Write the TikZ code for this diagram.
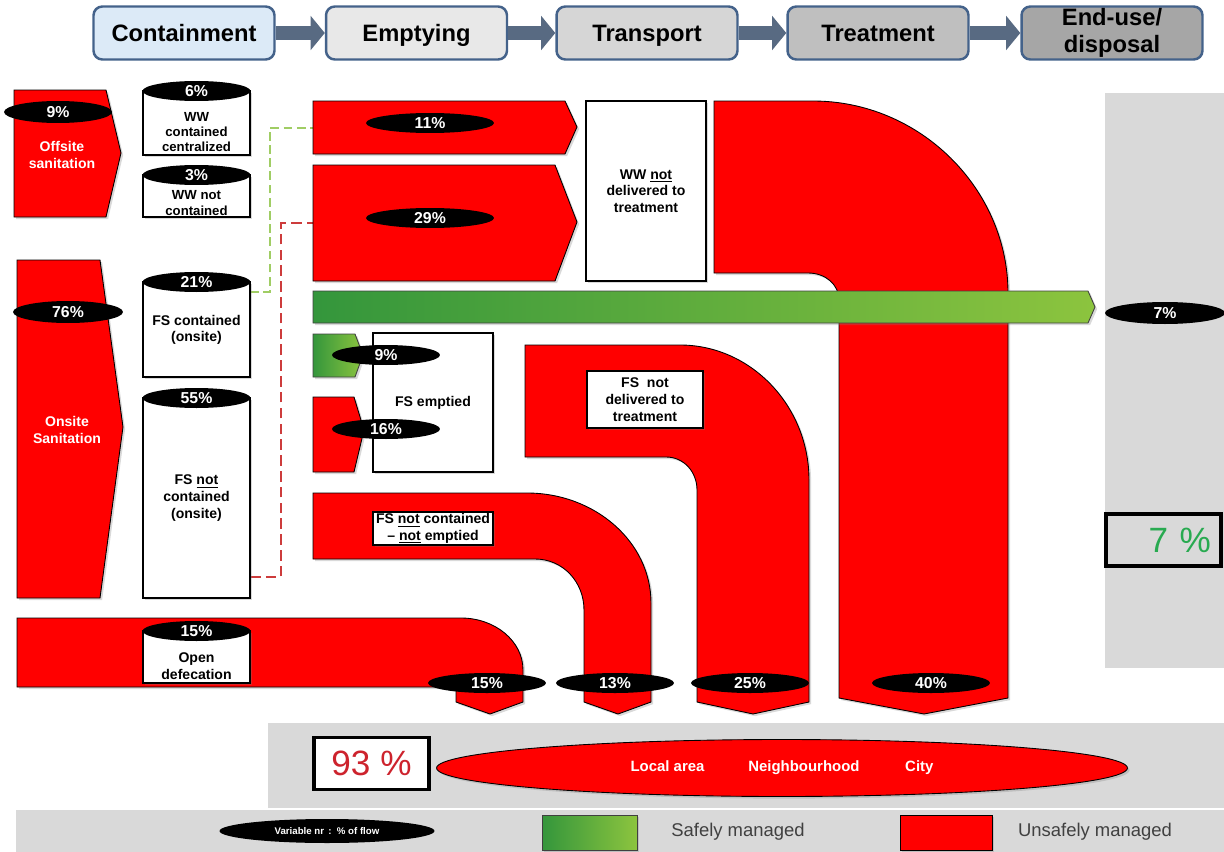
\documentclass[tikz,border=0pt]{standalone}
\usepackage{fontspec}
\setmainfont{Liberation Sans}
\usetikzlibrary{shapes.geometric,arrows.meta,shadows}

\definecolor{stageline}{RGB}{68,98,138}
\definecolor{stagearrowc}{RGB}{88,106,130}
\definecolor{contfill}{RGB}{220,234,247}
\definecolor{emptyfill}{RGB}{232,232,232}
\definecolor{transfill}{RGB}{214,214,214}
\definecolor{treatfill}{RGB}{191,191,191}
\definecolor{endfill}{RGB}{166,166,166}
\definecolor{gdark}{RGB}{52,150,60}
\definecolor{glight}{RGB}{140,196,62}
\definecolor{panelgray}{RGB}{217,217,217}
\definecolor{dashgreen}{RGB}{160,205,100}
\definecolor{dashred}{RGB}{205,60,60}
\definecolor{pctred}{RGB}{205,35,45}
\definecolor{pctgreen}{RGB}{40,170,80}
\definecolor{keytext}{RGB}{64,64,64}

\begin{document}
\begin{tikzpicture}[
    x=0.02cm, y=-0.02cm,
    stage/.style={rectangle, draw=stageline, line width=1.4pt, rounded corners=5pt, minimum width=3.62cm, minimum height=1.06cm, inner sep=0pt, align=center, font=\fontsize{13.5}{15.5}\selectfont\bfseries},
    oneline/.style={text height=9.8pt, text depth=0.6pt},
    stagearrow/.style={-{Triangle[length=8pt,width=19pt]}, line width=8.5pt, draw=stagearrowc},
    softshadow/.style={drop shadow={shadow xshift=1.2pt, shadow yshift=-1.2pt, opacity=0.3}},
    unsafe/.style={fill=red, draw=black, line width=0.5pt, softshadow},
    safe/.style={left color=gdark, right color=glight, draw=black!75, line width=0.5pt, softshadow},
    tank/.style={rectangle, draw, line width=0.9pt, fill=white, minimum width=2.14cm, inner sep=0pt, softshadow},
    pct/.style={ellipse, fill=black, text=white, inner sep=0pt, minimum width=2.16cm, minimum height=0.4cm, font=\fontsize{9}{10}\selectfont\bfseries},
    lbl/.style={align=center, inner sep=0pt, font=\fontsize{8}{9.5}\selectfont\bfseries},
    wlbl/.style={lbl, text=white},
    box/.style={rectangle, draw, line width=0.9pt, fill=white, align=center, inner sep=0pt, font=\fontsize{8}{9.5}\selectfont\bfseries, softshadow},
    bigpct/.style={rectangle, draw=black, line width=1.8pt, minimum width=2.3cm, minimum height=1.04cm, font=\fontsize{20}{22}\selectfont},
    keylbl/.style={text=keytext, font=\fontsize{10.5}{12}\selectfont},
    gdash/.style={draw=dashgreen, line width=0.6pt, dash pattern=on 5pt off 2.5pt},
    rdash/.style={draw=dashred, line width=0.7pt, dash pattern=on 6pt off 3pt}
]
\useasboundingbox (0,0) rectangle (1224,852);

\fill[panelgray] (1105,93) rectangle (1224,668);
\fill[panelgray] (268,723) rectangle (1224,808);
\fill[panelgray] (16,810) rectangle (1224,852);

\node[stage, oneline, fill=contfill] (cont) at (184,33) {Containment};
\node[stage, oneline, fill=emptyfill] (empt) at (416.5,33) {Emptying};
\node[stage, oneline, fill=transfill] (trans) at (647,33) {Transport};
\node[stage, oneline, fill=treatfill] (treat) at (878,33) {Treatment};
\node[stage, fill=endfill] (endu) at (1112,33) {End-use/\\disposal};

\draw[stagearrow] (cont) -- (empt);
\draw[stagearrow] (empt) -- (trans);
\draw[stagearrow] (trans) -- (treat);
\draw[stagearrow] (treat) -- (endu);

\coordinate (c21out) at (250,292);
\coordinate (f11in) at (313,128);
\coordinate (c55out) at (250,577);
\coordinate (f29in) at (313,223);
\draw[gdash] (c21out) -- ++(20,0) |- (f11in);
\draw[rdash] (c55out) -- ++(31,0) |- (f29in);

\draw[unsafe] (14,90) -- (106,90) -- (121,153) -- (106,217) -- (14,217) -- cycle;
\draw[unsafe] (17,260) -- (100,260) -- (123,427) -- (100,598) -- (17,598) -- cycle;
\draw[unsafe] (17,618) -- (461,618) .. controls (495,618) and (523,641) .. (523,670) -- (523,702) -- (490,714) -- (456,702) -- (456,687) -- (17,687) -- cycle;
\draw[unsafe] (313,101) -- (565,101) -- (577,127) -- (565,154) -- (313,154) -- cycle;
\draw[unsafe] (313,165) -- (555,165) -- (577,222) -- (555,281) -- (313,281) -- cycle;
\draw[unsafe] (714,101) -- (813,101) .. controls (920,101) and (1008,189) .. (1008,293) -- (1008,698) -- (924,714) -- (839,698) -- (839,300) .. controls (839,285) and (826,273) .. (808,273) -- (714,273) -- cycle;
\draw[unsafe] (525,345) -- (680,345) .. controls (751,345) and (809,406) .. (809,480) -- (809,702) -- (753,714) -- (697,702) -- (697,490) .. controls (697,472) and (684,457) .. (666,457) -- (525,457) -- cycle;
\draw[unsafe] (313,493) -- (527,493) .. controls (595,493) and (651,542) .. (651,603) -- (651,702) -- (618,714) -- (584,702) -- (584,610) .. controls (584,582) and (563,559) .. (535,559) -- (313,559) -- cycle;
\draw[unsafe] (313,397) -- (354,397) -- (364,430) -- (354,472) -- (313,472) -- cycle;
\draw[safe] (313,334) -- (355,334) -- (363,355) -- (355,377) -- (313,377) -- cycle;
\draw[safe] (313,291) -- (1088,291) -- (1095,307) -- (1088,323) -- (313,323) -- cycle;

\node[wlbl] (offl) at (62,155) {Offsite\\sanitation};
\node[wlbl] (onl) at (67,430) {Onsite\\Sanitation};

\node[tank, minimum height=1.28cm] (c6) at (196.5,123) {};
\node[lbl, font=\fontsize{7.5}{8.8}\selectfont\bfseries] (c6t) at (196.5,132) {WW\\contained\\centralized};
\node[tank, minimum height=0.84cm] (c3) at (196.5,196) {};
\node[lbl, font=\fontsize{7.5}{8.8}\selectfont\bfseries] (c3t) at (196.5,203) {WW not\\contained};
\node[tank, minimum height=1.9cm] (c21) at (196.5,329.5) {};
\node[lbl] (c21t) at (196.5,330) {FS contained\\(onsite)};
\node[tank, minimum height=4cm] (c55) at (196.5,498) {};
\node[lbl] (c55t) at (196.5,498) {FS \underline{not}\\contained\\(onsite)};
\node[tank, minimum height=1.04cm] (c15) at (196.5,657) {};
\node[lbl] (c15t) at (196.5,666) {Open\\defecation};

\node[box, minimum width=2.4cm, minimum height=3.6cm] (wwnd) at (646,191) {WW \underline{not}\\delivered to\\treatment};
\node[box, minimum width=2.4cm, minimum height=2.78cm] (fse) at (433,402.5) {FS emptied};
\node[box, minimum width=2.32cm, minimum height=1.14cm] (fsnd) at (645,399.5) {FS\ \ not\\delivered to\\treatment};
\node[box, minimum width=2.4cm, minimum height=0.66cm] (fsnc) at (433,528.5) {FS \underline{not} contained\\-- \underline{not} emptied};

\node[pct] (p6) at (196.5,91) {6\%};
\node[pct] (p3) at (196.5,175) {3\%};
\node[pct] (p21) at (196.5,282) {21\%};
\node[pct] (p55) at (196.5,398) {55\%};
\node[pct] (p15) at (196.5,631) {15\%};
\node[pct, minimum height=0.44cm] (p9off) at (58,112) {9\%};
\node[pct, minimum width=2.2cm, minimum height=0.44cm] (p76) at (68,312) {76\%};
\node[pct, minimum width=2.56cm] (p11) at (430,123) {11\%};
\node[pct, minimum width=2.56cm] (p29) at (430,218) {29\%};
\node[pct, minimum width=2.4cm, minimum height=0.44cm] (p7) at (1165,313) {7\%};
\node[pct] (p9) at (386,355) {9\%};
\node[pct] (p16) at (386,429) {16\%};
\node[pct, minimum width=2.36cm] (p15b) at (487,683) {15\%};
\node[pct, minimum width=2.36cm] (p13) at (615,683) {13\%};
\node[pct, minimum width=2.36cm] (p25) at (750,683) {25\%};
\node[pct, minimum width=2.36cm] (p40) at (931,683) {40\%};

\node[bigpct, fill=panelgray, text=pctgreen, align=right, text width=1.9cm] (tot7) at (1163.5,540) {7 \%};
\node[bigpct, fill=white, text=pctred] (tot93) at (371.5,763.5) {93 \%};
\node[ellipse, fill=red, draw=black, line width=0.5pt, minimum width=13.82cm, minimum height=1.14cm, text=white, font=\fontsize{8.5}{10}\selectfont\bfseries, softshadow] (reach) at (782,768) {Local area\hspace{25pt}Neighbourhood\hspace{26pt}City};

\node[pct, minimum width=4.3cm, minimum height=0.48cm, font=\fontsize{5.5}{6}\selectfont\bfseries] (keypct) at (327,831) {Variable nr \,:\ \ \% of flow};
\node[rectangle, safe, minimum width=1.9cm, minimum height=0.7cm] (keysafe) at (589.5,832.5) {};
\node[keylbl] (keysafet) at (738,832) {Safely managed};
\node[rectangle, unsafe, minimum width=1.84cm, minimum height=0.7cm] (keyunsafe) at (946,832.5) {};
\node[keylbl] (keyunsafet) at (1095,832) {Unsafely managed};

\end{tikzpicture}
\end{document}
